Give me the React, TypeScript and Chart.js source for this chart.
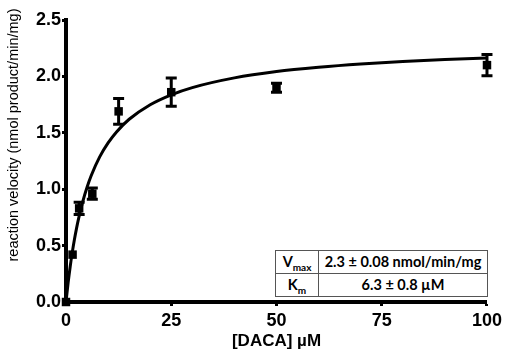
import React, { useEffect, useRef } from "react";
import { Chart, registerables } from "chart.js";

Chart.register(...registerables);

// Measured data (substrate concentration in µM, velocity in nmol product/min/mg)
const concentrations = [0, 1.5625, 3.125, 6.25, 12.5, 25, 50, 100];
const velocities = [0, 0.42, 0.83, 0.96, 1.69, 1.86, 1.9, 2.1];
const errors = [0, 0, 0.055, 0.05, 0.115, 0.125, 0.04, 0.095];

// Fitted curve
const fitX = [0, 0.5, 1, 1.5, 2, 2.5, 3, 4, 5, 6, 8, 10, 12, 15, 20, 25, 30, 40, 50, 60, 70, 80, 90, 100];
const fitY = [0, 0.169, 0.315, 0.442, 0.554, 0.653, 0.742, 0.893, 1.018, 1.122, 1.287, 1.411, 1.508, 1.62, 1.749, 1.837, 1.901, 1.987, 2.043, 2.081, 2.11, 2.132, 2.15, 2.164];

const xTicks = [0, 25, 50, 75, 100];
const yTicks = [0, 0.5, 1.0, 1.5, 2.0, 2.5];

const yTitle = "reaction velocity (nmol product/min/mg)";
const xTitle = "[DACA] \u00B5M";

const errorBarPlugin = {
  id: "errorBars",
  afterDatasetsDraw(chart: any) {
    const { ctx, scales } = chart;
    const xs = scales.x;
    const ys = scales.y;
    ctx.save();
    ctx.strokeStyle = "#000";
    ctx.lineWidth = 3;
    concentrations.forEach((c, i) => {
      const e = errors[i];
      if (!e) return;
      const px = xs.getPixelForValue(c);
      const top = ys.getPixelForValue(velocities[i] + e);
      const bot = ys.getPixelForValue(velocities[i] - e);
      ctx.beginPath();
      ctx.moveTo(px, top);
      ctx.lineTo(px, bot);
      ctx.moveTo(px - 5.5, top);
      ctx.lineTo(px + 5.5, top);
      ctx.moveTo(px - 5.5, bot);
      ctx.lineTo(px + 5.5, bot);
      ctx.stroke();
    });
    ctx.restore();
  },
};

const yTitlePlugin = {
  id: "yTitleText",
  afterDraw(chart: any) {
    const { ctx } = chart;
    ctx.save();
    ctx.translate(14, 135);
    ctx.rotate(-Math.PI / 2);
    ctx.font = "14.5px 'Liberation Sans', Arial, sans-serif";
    ctx.fillStyle = "#000";
    ctx.textAlign = "center";
    ctx.textBaseline = "middle";
    ctx.fillText(yTitle, 0, 0);
    ctx.restore();
  },
};

export default function App() {
  const canvasRef = useRef<HTMLCanvasElement | null>(null);

  useEffect(() => {
    document.body.style.margin = "0";
    const canvas = canvasRef.current;
    if (!canvas) return;
    const tickFont = { family: "'Liberation Sans', Arial, sans-serif", size: 18, weight: "bold" as const };
    const chart = new Chart(canvas, {
      type: "scatter",
      data: {
        datasets: [
          {
            label: "fit",
            data: fitX.map((x, i) => ({ x, y: fitY[i] })),
            showLine: true,
            borderColor: "#000",
            borderWidth: 3,
            pointRadius: 0,
            cubicInterpolationMode: "monotone",
            fill: false,
            clip: false,
          },
          {
            label: "data",
            data: concentrations.map((x, i) => ({ x, y: velocities[i] })),
            pointStyle: "rect",
            pointRadius: 6,
            backgroundColor: "#000",
            borderColor: "#000",
            borderWidth: 0,
            clip: false,
          },
        ],
      },
      options: {
        animation: false,
        responsive: false,
        layout: { padding: { left: 0, top: 20, right: 19, bottom: 0 } },
        plugins: { legend: { display: false }, tooltip: { enabled: false } },
        scales: {
          x: {
            type: "linear",
            min: 0,
            max: 100,
            afterBuildTicks: (s: any) => {
              s.ticks = xTicks.map((v) => ({ value: v }));
            },
            afterFit: (s: any) => {
              s.height = 50;
            },
            ticks: { font: tickFont, color: "#000", padding: 4, maxRotation: 0 },
            grid: { drawOnChartArea: false, drawTicks: true, tickLength: 4, tickWidth: 3, tickColor: "#000" },
            border: { display: true, color: "#000", width: 4 },
            title: {
              display: true,
              text: xTitle,
              color: "#000",
              font: { family: "'Liberation Sans', Arial, sans-serif", size: 17, weight: "bold" },
              padding: { top: 2, bottom: 0 },
            },
          },
          y: {
            type: "linear",
            min: 0,
            max: 2.5,
            afterBuildTicks: (s: any) => {
              s.ticks = yTicks.map((v) => ({ value: v }));
            },
            afterFit: (s: any) => {
              s.width = 66;
            },
            ticks: {
              font: tickFont,
              color: "#000",
              padding: 1,
              callback: (v: any) => Number(v).toFixed(1),
            },
            grid: { drawOnChartArea: false, drawTicks: true, tickLength: 4, tickWidth: 3, tickColor: "#000" },
            border: { display: true, color: "#000", width: 4 },
          },
        },
      },
      plugins: [errorBarPlugin, yTitlePlugin],
    });
    return () => chart.destroy();
  }, []);

  const cell: React.CSSProperties = {
    border: "1px solid #555",
    padding: 0,
    textAlign: "center",
    verticalAlign: "middle",
    fontFamily: "Lato, 'Open Sans', sans-serif",
    fontWeight: 700,
    fontSize: 14.5,
    color: "#000",
    height: 22,
    lineHeight: "20px",
  };

  return (
    <div style={{ position: "relative", width: 506, height: 352 }}>
      <canvas ref={canvasRef} width={506} height={352} style={{ display: "block" }} />
      <table
        style={{
          position: "absolute",
          left: 275,
          top: 250,
          width: 213,
          borderCollapse: "collapse",
          background: "#fff",
        }}
      >
        <tbody>
          <tr>
            <td style={{ ...cell, width: 42 }}>
              V<sub style={{ fontSize: 10, lineHeight: 0 }}>max</sub>
            </td>
            <td style={cell}>2.3 ± 0.08 nmol/min/mg</td>
          </tr>
          <tr>
            <td style={{ ...cell, width: 42 }}>
              K<sub style={{ fontSize: 10, lineHeight: 0 }}>m</sub>
            </td>
            <td style={cell}>6.3 ± 0.8 µM</td>
          </tr>
        </tbody>
      </table>
    </div>
  );
}
